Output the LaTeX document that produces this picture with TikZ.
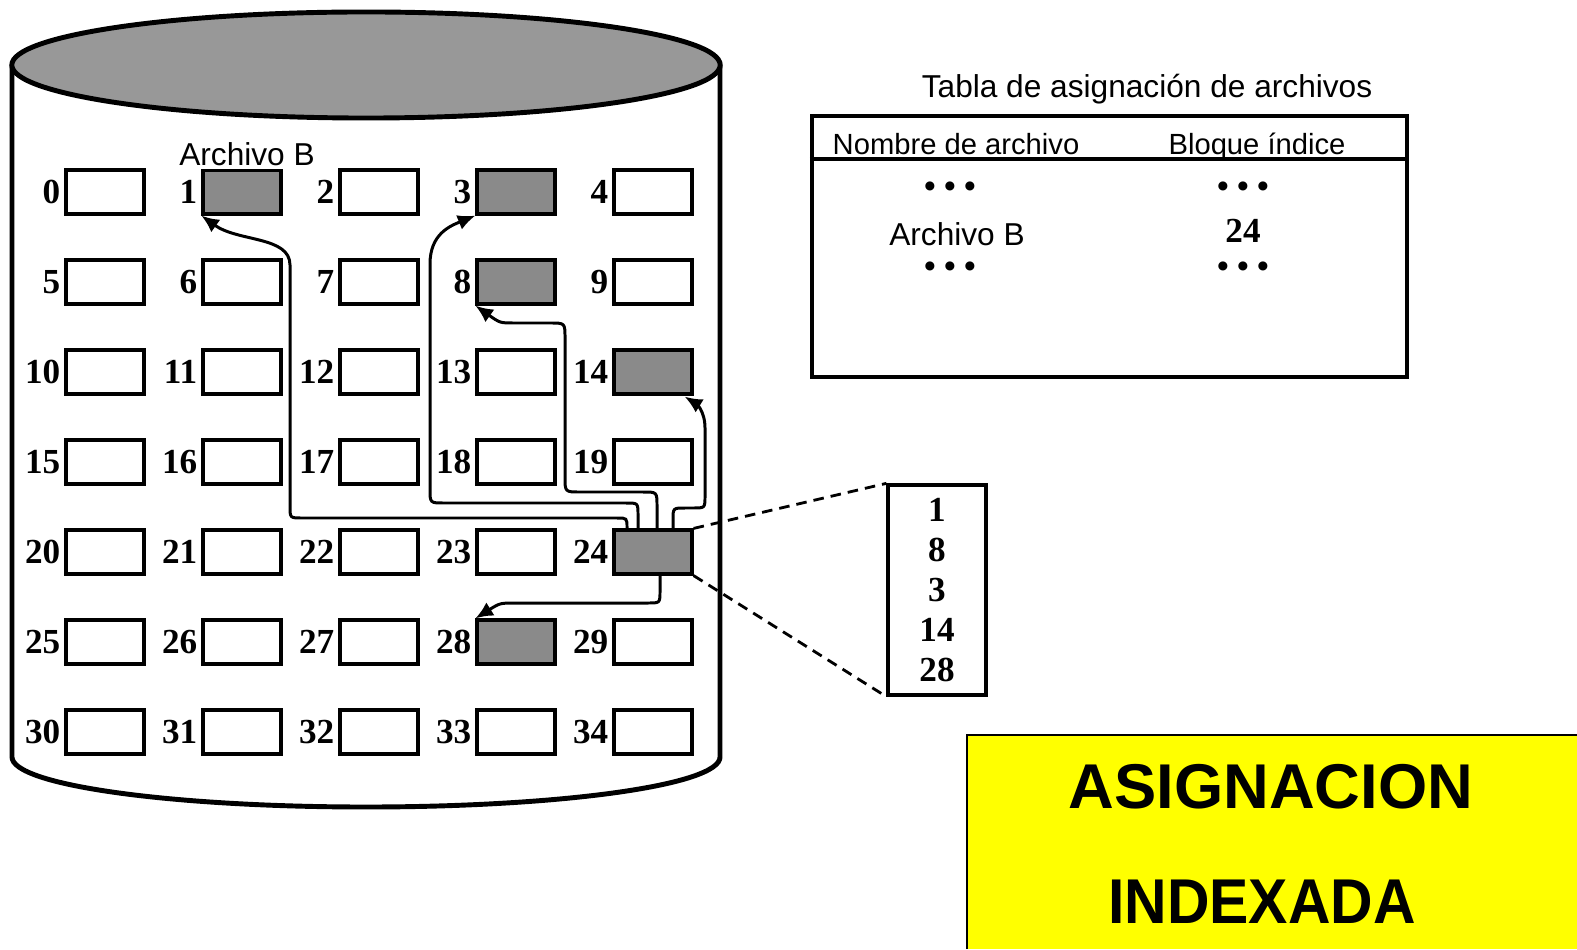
\documentclass[tikz,border=0pt]{standalone}
\usepackage{fontspec}
\setmainfont{Liberation Serif}
\newfontfamily\helv{Liberation Sans}
\usetikzlibrary{arrows.meta,positioning,calc}
\definecolor{blockgray}{RGB}{138,138,138}
\definecolor{diskgray}{RGB}{152,152,152}
\definecolor{bannerfill}{RGB}{255,255,0}

\begin{document}
\begin{tikzpicture}[x=0.01cm, y=-0.01cm,
  blk/.style={draw, line width=0.9pt, minimum width=0.78cm, minimum height=0.44cm, inner sep=0pt, fill=white},
  used/.style={blk, fill=blockgray},
  num/.style={font=\fontsize{10}{12}\selectfont\bfseries, inner sep=1pt},
  link/.style={-{Latex[length=5pt,width=4.4pt]}, line width=0.85pt},
  zoomline/.style={line width=0.8pt, dash pattern=on 3pt off 2pt},
  txt/.style={font=\helv\fontsize{9}{11}\selectfont, inner sep=1pt},
  hdr/.style={font=\helv\fontsize{8.3}{10}\selectfont, inner sep=1pt},
  dots/.style={font=\fontsize{9.5}{11}\selectfont\bfseries, inner sep=1pt},
  banner/.style={font=\helv\fontsize{18}{20}\selectfont\bfseries, inner sep=0pt}]

  \useasboundingbox (0,0) rectangle (1577,949);

  % disk
  \draw[line width=1.4pt] (12,65) -- (12,757)
    .. controls (12,785) and (170,807) .. (366,807)
    .. controls (562,807) and (720,785) .. (720,757) -- (720,65);
  \draw[line width=1.4pt, fill=diskgray] (366,65) ellipse [x radius=3.54cm, y radius=0.53cm];

  % blocks
  \foreach \r in {0,...,6}
    \foreach \c in {0,...,4} {
      \pgfmathtruncatemacro\n{5*\r+\c}
      \node[blk] (b\n) at (105+137*\c, 192+90*\r) {};
      \node[num, left=0pt of b\n] (n\n) {\n};
    }
  \foreach \k in {1,3,8,14,24,28}
    \node[used] (u\k) at (b\k) {};

  \node[txt, fill=white] (fileb) at (247,154) {Archivo B};

  % pointers out of block 24
  \draw[link] ($(b24.north)+(-26,0)$) -- (627,528) .. controls (627,518) .. (617,518)
    -- (302,518) .. controls (290,518) .. (290,506) -- (290,265)
    .. controls (290,236) and (238,242) .. (b1.south west);
  \draw[link] ($(b24.north)+(-15,0)$) -- (638,515) .. controls (638,503) .. (626,503)
    -- (444,503) .. controls (430,503) .. (430,489) -- (430,264)
    .. controls (430,234) and (450,226) .. (b3.south west);
  \draw[link] ($(b24.north)+(4,0)$) -- (657,506) .. controls (657,492) .. (643,492)
    -- (580,492) .. controls (565,492) .. (565,477) -- (565,338)
    .. controls (565,323) .. (550,323) -- (514,323) .. controls (500,323) .. (b8.south west);
  \draw[link] ($(b24.north)+(20,0)$) -- (673,520) .. controls (673,508) .. (685,508)
    -- (693,508) .. controls (705,508) .. (705,496) -- (705,428)
    .. controls (705,410) and (695,403) .. ($(b14.south east)+(-9,1)$);
  \draw[link] ($(b24.south)+(7,0)$) -- (660,591) .. controls (660,603) .. (648,603)
    -- (516,603) .. controls (500,603) .. (b28.north west);

  % index block
  \node[draw, line width=0.9pt, minimum width=0.98cm, minimum height=2.1cm, align=center,
        font=\fontsize{10}{11.4}\selectfont\bfseries] (ix) at (937,590) {1\\8\\3\\14\\28};
  \draw[zoomline] (b24.north east) -- (ix.north west);
  \draw[zoomline] (b24.south east) -- (ix.south west);

  % file allocation table
  \node[txt] (ttl) at (1147,89) {Tabla de asignación de archivos};
  \node[draw, line width=1.1pt, minimum width=5.95cm, minimum height=2.61cm] (fat) at (1109.5,246.5) {};
  \draw[line width=1.1pt] ($(fat.north west)+(0,45)$) -- ($(fat.north east)+(0,45)$);
  \node[hdr, anchor=base] (colname) at (956,155) {Nombre de archivo};
  \node[hdr, anchor=base] (colblk) at (1257,155) {Bloque índice};
  \node[dots] (d1) at (950,190) {\textbullet~\textbullet~\textbullet};
  \node[dots] (d2) at (1243,190) {\textbullet~\textbullet~\textbullet};
  \node[txt] (tfile) at (957,234) {Archivo B};
  \node[num] (tidx) at (1243,231) {24};
  \node[dots] (d3) at (950,270) {\textbullet~\textbullet~\textbullet};
  \node[dots] (d4) at (1243,270) {\textbullet~\textbullet~\textbullet};

  % banner
  \fill[bannerfill] (967,735) rectangle (1577,949);
  \draw[line width=0.8pt] (967,949) -- (967,735) -- (1577,735);
  \node[banner] (t1) at (1271,787) {ASIGNACION};
  \node[banner, xscale=0.93] (t2) at (1262,902) {INDEXADA};
\end{tikzpicture}
\end{document}
